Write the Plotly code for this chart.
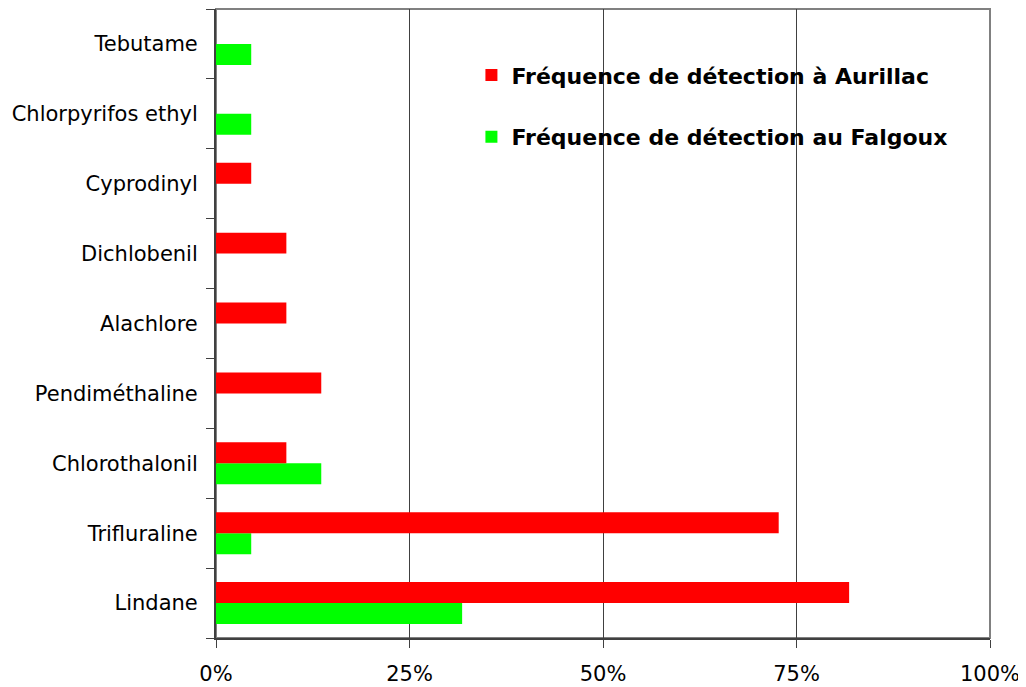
import plotly.graph_objects as go

categories = ["Lindane", "Trifluraline", "Chlorothalonil", "Pendiméthaline", "Alachlore",
              "Dichlobenil", "Cyprodinyl", "Chlorpyrifos ethyl", "Tebutame"]
aurillac = [0.818, 0.727, 0.0909, 0.136, 0.0909, 0.0909, 0.0455, None, None]
falgoux = [0.318, 0.0455, 0.136, None, None, None, None, 0.0455, 0.0455]
name_aurillac = "Fréquence de détection à Aurillac"
name_falgoux = "Fréquence de détection au Falgoux"
x_ticks = [0, 0.25, 0.5, 0.75, 1.0]

fig = go.Figure()
fig.add_trace(go.Bar(y=categories, x=falgoux, orientation="h", name=name_falgoux,
                     marker=dict(color="#00ff00", line=dict(width=0)),
                     legendgroup="b", legendrank=2))
fig.add_trace(go.Bar(y=categories, x=aurillac, orientation="h", name=name_aurillac,
                     marker=dict(color="#ff0000", line=dict(width=0)),
                     legendgroup="a", legendrank=1))

fig.update_layout(
    width=1018, height=679,
    margin=dict(l=208, r=36, t=1, b=46),
    paper_bgcolor="white", plot_bgcolor="white",
    barmode="group", bargap=0.4, bargroupgap=0,
    font=dict(family="DejaVu Sans", size=21, color="black"),
    legend=dict(x=0.33, y=0.928, xanchor="left", yanchor="top",
                font=dict(family="DejaVu Sans", size=22, color="black", weight="bold"),
                bgcolor="rgba(0,0,0,0)", tracegroupgap=30, traceorder="grouped"),
    showlegend=True,
)
fig.update_xaxes(range=[0, 1], tickvals=x_ticks, tickformat=".0%",
                 showgrid=True, gridcolor="#404040", gridwidth=1,
                 showline=True, linecolor="#404040", linewidth=2,
                 ticks="outside", ticklen=8, tickcolor="#404040", tickwidth=1,
                 zeroline=False, fixedrange=True, ticklabelstandoff=8)
fig.update_yaxes(categoryorder="array", categoryarray=categories,
                 range=[-0.5, len(categories) - 0.5],
                 showline=True, linecolor="#404040", linewidth=2,
                 ticks="outside", tickson="boundaries", ticklen=8,
                 tickcolor="#404040", tickwidth=1,
                 showgrid=False, zeroline=False, ticklabelstandoff=12)
fig.add_shape(type="rect", xref="paper", yref="paper", x0=0, x1=1, y0=0, y1=1,
              line=dict(color="#808080", width=2), layer="below")

fig.write_html("out.html")
